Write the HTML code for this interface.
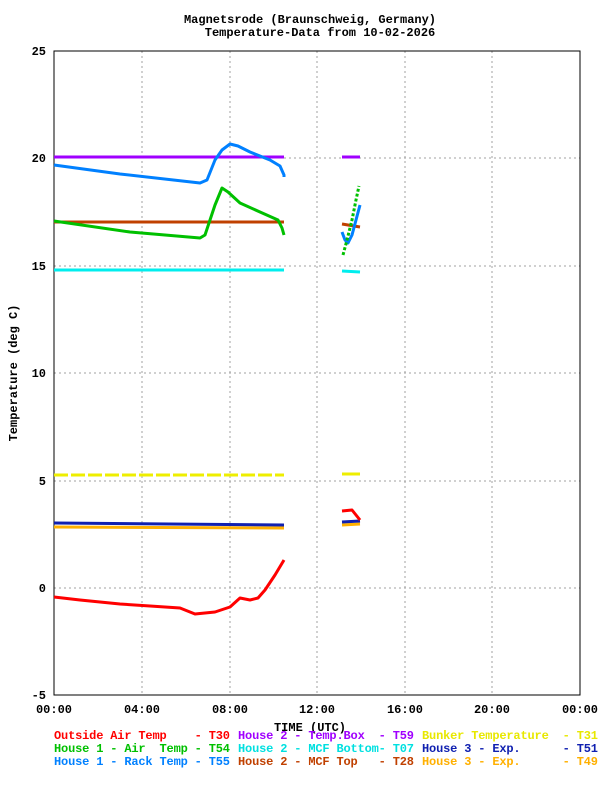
<!DOCTYPE html>
<html><head><meta charset="utf-8"><style>
body{margin:0;background:#fff}
svg text{font-family:"Liberation Mono","DejaVu Sans Mono",monospace;font-weight:bold;font-size:12px}
</style></head><body>
<svg width="600" height="800" viewBox="0 0 600 800" xmlns="http://www.w3.org/2000/svg">
<rect width="600" height="800" fill="#fff"/>
<g stroke="#a0a0a0" stroke-dasharray="2,3" stroke-width="1">
<line x1="142" y1="51" x2="142" y2="695"/><line x1="230" y1="51" x2="230" y2="695"/>
<line x1="317" y1="51" x2="317" y2="695"/><line x1="405" y1="51" x2="405" y2="695"/>
<line x1="492" y1="51" x2="492" y2="695"/>
<line x1="54" y1="158" x2="580" y2="158"/><line x1="54" y1="266" x2="580" y2="266"/>
<line x1="54" y1="373" x2="580" y2="373"/><line x1="54" y1="481" x2="580" y2="481"/>
<line x1="54" y1="588" x2="580" y2="588"/>
</g>
<rect x="54" y="51" width="526" height="644" fill="none" stroke="#000" stroke-width="1"/>
<g font-size="12" text-anchor="end">
<text x="46" y="55">25</text><text x="46" y="162">20</text><text x="46" y="270">15</text>
<text x="46" y="377">10</text><text x="46" y="485">5</text><text x="46" y="592">0</text><text x="46" y="699">-5</text>
</g>
<g text-anchor="middle">
<text x="54" y="713">00:00</text><text x="142" y="713">04:00</text><text x="230" y="713">08:00</text>
<text x="317" y="713">12:00</text><text x="405" y="713">16:00</text><text x="492" y="713">20:00</text><text x="580" y="713">00:00</text>
<text x="310" y="731">TIME (UTC)</text>
<text x="310" y="23">Magnetsrode (Braunschweig, Germany)</text>
<text x="320" y="36">Temperature-Data from 10-02-2026</text>
</g>
<text transform="translate(17,373) rotate(-90)" text-anchor="middle">Temperature (deg C)</text>
<g fill="none" stroke-width="3" stroke-linejoin="round">
<polyline stroke="#a000ff" points="54,157 284,157"/><polyline stroke="#a000ff" points="342,157 360,157"/>
<polyline stroke="#c04000" points="54,222 284,222"/><polyline stroke="#c04000" points="342,224 360,227"/>
<polyline stroke="#00eeee" points="54,270 284,270"/><polyline stroke="#00eeee" points="342,271 360,272"/>
<polyline stroke="#eeee00" stroke-dasharray="14,3" points="54,475 284,475"/><polyline stroke="#eeee00" points="342,474 360,474"/>
<polyline stroke="#ffb000" points="54,527 284,528"/><polyline stroke="#ffb000" points="342,525 360,524"/>
<polyline stroke="#1020b0" points="54,523 284,525"/><polyline stroke="#1020b0" points="342,522 360,521"/>
<polyline stroke="#0080ff" points="54,165 120,174 200,183 207,180 215,160 222,150 230,144 238,146 250,152 270,160 280,166 284,175 284,177"/>
<polyline stroke="#0080ff" points="342,232 345,240 348,243 352,235 356,220 360,205"/>
<polyline stroke="#00c000" points="54,221 130,232 200,238 205,235 215,205 222,188 228,192 240,203 260,212 278,220 282,228 284,235"/>
<polyline stroke="#00c000" stroke-dasharray="3,2" points="343,255 347,240 352,220 356,200 359,186"/>
<polyline stroke="#ff0000" points="54,597 80,600 120,604 150,606 180,608 195,614 215,612 230,607 240,598 250,600 258,598 265,590 275,575 284,560"/>
<polyline stroke="#ff0000" points="342,511 352,510 360,520"/>
</g>
<g font-size="12">
<text x="54" y="739" fill="#ff0000" xml:space="preserve" textLength="176">Outside Air Temp    - T30</text>
<text x="54" y="752" fill="#00c000" xml:space="preserve" textLength="176">House 1 - Air  Temp - T54</text>
<text x="54" y="765" fill="#0080ff" xml:space="preserve" textLength="176">House 1 - Rack Temp - T55</text>
<text x="238" y="739" fill="#a000ff" xml:space="preserve" textLength="176">House 2 - Temp.Box  - T59</text>
<text x="238" y="752" fill="#00e0e0" xml:space="preserve" textLength="176">House 2 - MCF Bottom- T07</text>
<text x="238" y="765" fill="#c04000" xml:space="preserve" textLength="176">House 2 - MCF Top   - T28</text>
<text x="422" y="739" fill="#e8e800" xml:space="preserve" textLength="176">Bunker Temperature  - T31</text>
<text x="422" y="752" fill="#1020b0" xml:space="preserve" textLength="176">House 3 - Exp.      - T51</text>
<text x="422" y="765" fill="#ffb000" xml:space="preserve" textLength="176">House 3 - Exp.      - T49</text>
</g>
</svg>
</body></html>
